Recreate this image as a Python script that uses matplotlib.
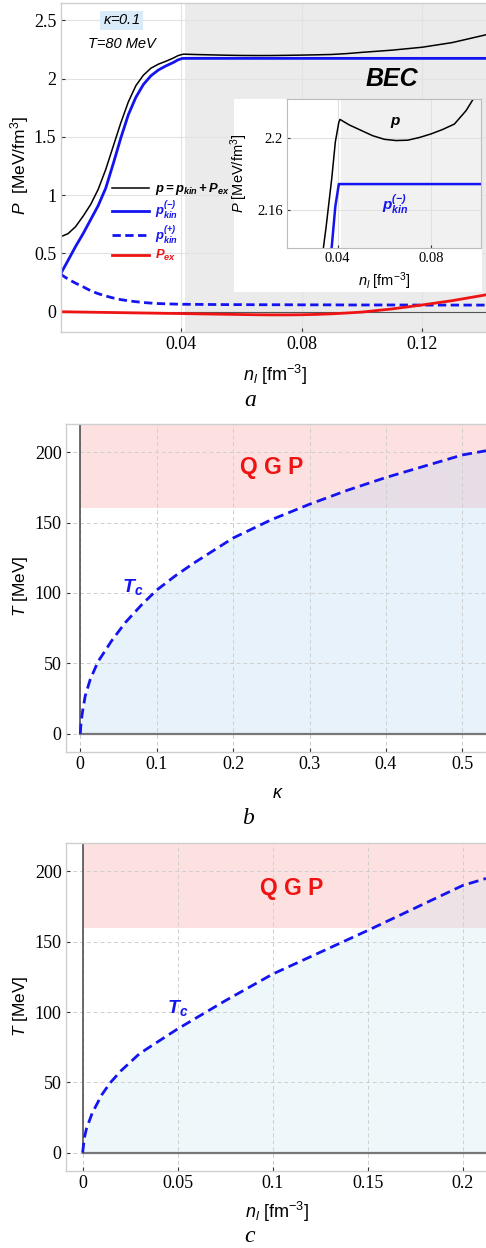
import matplotlib
matplotlib.use("Agg")
from matplotlib import pyplot as plt
from matplotlib.patches import Rectangle

plt.rcParams["font.family"] = ["Liberation Sans", "DejaVu Sans"]
plt.rcParams["mathtext.fontset"] = "custom"
plt.rcParams["mathtext.rm"] = "Liberation Sans"
plt.rcParams["mathtext.it"] = "Liberation Sans:italic"
plt.rcParams["mathtext.bf"] = "Liberation Sans:bold"
plt.rcParams["mathtext.bfit"] = "Liberation Sans:bold:italic"

# panel a: pressure vs density (kappa=0.1, T=80 MeV)
n_a = [0, 0.0025, 0.005, 0.0075, 0.01, 0.0125, 0.015, 0.0175, 0.02, 0.0225,
       0.025, 0.0275, 0.03, 0.0325, 0.035, 0.0375, 0.039, 0.0405, 0.041, 0.045,
       0.05, 0.055, 0.06, 0.065, 0.07, 0.075, 0.08, 0.085, 0.09, 0.095,
       0.1, 0.11, 0.12, 0.13, 0.1412]
p_total = [0.643, 0.67, 0.73, 0.82, 0.92, 1.05, 1.22, 1.42, 1.62, 1.80,
           1.94, 2.03, 2.09, 2.125, 2.150, 2.178, 2.198, 2.209, 2.2106, 2.2075,
           2.2045, 2.2015, 2.1995, 2.1988, 2.199, 2.2005, 2.2025, 2.205, 2.208, 2.2155,
           2.226, 2.245, 2.27, 2.31, 2.377]
p_kin_minus = [0.323, 0.44, 0.56, 0.67, 0.79, 0.91, 1.06, 1.27, 1.49, 1.69,
               1.84, 1.95, 2.025, 2.075, 2.11, 2.14, 2.162, 2.1745, 2.1745, 2.1745,
               2.1745, 2.1745, 2.1745, 2.1745, 2.1745, 2.1745, 2.1745, 2.1745, 2.1745, 2.1745,
               2.1745, 2.1745, 2.1745, 2.1745, 2.1745]
p_kin_plus = [0.323, 0.28, 0.245, 0.214, 0.18, 0.155, 0.135, 0.118, 0.104, 0.094,
              0.086, 0.079, 0.074, 0.07, 0.068, 0.066, 0.065, 0.064, 0.064, 0.063,
              0.062, 0.061, 0.061, 0.06, 0.06, 0.06, 0.059, 0.059, 0.059, 0.058,
              0.058, 0.058, 0.057, 0.057, 0.057]
p_ex = [0, -0.001, -0.002, -0.003, -0.004, -0.005, -0.006, -0.007, -0.008, -0.009,
        -0.010, -0.011, -0.012, -0.013, -0.014, -0.015, -0.015, -0.016, -0.016, -0.018,
        -0.02, -0.022, -0.024, -0.026, -0.027, -0.027, -0.026, -0.023, -0.018, -0.011,
        -0.003, 0.024, 0.058, 0.095, 0.145]
n_bec = 0.0413

# panel b: Tc vs kappa
kappa = [0, 0.001, 0.003, 0.0065, 0.013, 0.023, 0.041, 0.059, 0.081, 0.1,
         0.124, 0.148, 0.2, 0.25, 0.3, 0.35, 0.4, 0.45, 0.5, 0.531]
tc_kappa = [0, 8, 16, 27, 38.5, 51, 66, 79, 92, 102,
            112, 121, 139, 152, 163, 173, 182, 190, 198, 201]

# panel c: Tc vs density
n_c = [0, 0.001, 0.002, 0.005, 0.01, 0.0144, 0.02, 0.03, 0.05, 0.075,
       0.1, 0.125, 0.15, 0.175, 0.2, 0.2123]
tc_n = [0, 11, 17, 28, 41, 49.5, 58, 70.5, 88, 108,
        127, 142.5, 158, 174, 190, 195]
t_qgp = 160

BLUE = "#1414f0"
RED = "#ee1414"
SERIF = "Liberation Serif"

fig = plt.figure(figsize=(4.86, 12.48), dpi=100)
W, H = 486.0, 1248.0


def box(x0, y0, x1, y1):
    return [x0 / W, 1 - y1 / H, (x1 - x0) / W, (y1 - y0) / H]


def style_frame(ax):
    for s in ["left", "bottom", "top"]:
        ax.spines[s].set_color("#cfcfcf")
        ax.spines[s].set_linewidth(1.0)
    ax.spines["right"].set_visible(False)
    ax.tick_params(direction="in", length=3, width=0.8, color="#333333",
                   labelsize=13, pad=3)
    for lab in ax.get_xticklabels() + ax.get_yticklabels():
        lab.set_fontfamily(SERIF)


# ---------- panel a ----------
ax = fig.add_axes(box(60.5, 2.5, 486, 332))
ax.set_xlim(0, 0.1412)
ax.set_ylim(-0.174, 2.654)
ax.axvspan(n_bec, 0.1412, color="#ebebeb", zorder=0, lw=0)
ax.set_axisbelow(True)
ax.grid(True, color="#e2e2e2", lw=0.8)
ax.axhline(0, color="#555555", lw=0.8, zorder=1)
l1, = ax.plot(n_a, p_total, color="black", lw=1.1, label=r"$\mathbfit{p=p_{kin}+P_{ex}}$")
l2, = ax.plot(n_a, p_kin_minus, color=BLUE, lw=2.0, label=r"$\mathbfit{p^{(-)}_{kin}}$")
l3, = ax.plot(n_a, p_kin_plus, color=BLUE, lw=2.0, ls=(0, (3, 1.6)), label=r"$\mathbfit{p^{(+)}_{kin}}$")
l4, = ax.plot(n_a, p_ex, color=RED, lw=2.0, label=r"$\mathbfit{P_{ex}}$")
ax.set_xticks([0.04, 0.08, 0.12])
ax.set_xticklabels(["0.04", "0.08", "0.12"])
ax.set_yticks([0, 0.5, 1, 1.5, 2, 2.5])
ax.set_yticklabels(["0", "0.5", "1", "1.5", "2", "2.5"])
style_frame(ax)
ax.legend(handles=[l1, l2, l3, l4], loc="upper left", bbox_to_anchor=(0.12, 0.458),
          frameon=False, fontsize=9.4, handlelength=2.9, handletextpad=0.45,
          labelspacing=0.2, borderpad=0, borderaxespad=0, labelcolor="linecolor")
ax.text(0.0203, 2.5, r"$\kappa$=0.1", fontsize=10.5, style="italic", ha="center", va="center",
        bbox=dict(facecolor="#d9ebf9", edgecolor="none", pad=2))
ax.text(0.0203, 2.30, "T=80 MeV", fontsize=10.5, style="italic", ha="center", va="center")
ax.text(0.110, 2.0, "BEC", fontsize=18, fontweight="bold", style="italic", ha="center", va="center")

# inset
ax.add_patch(Rectangle((234 / W, 1 - 292 / H), 248 / W, 193 / H, transform=fig.transFigure,
                       facecolor="white", edgecolor="none", zorder=5, clip_on=False))
axi = fig.add_axes(box(287, 99, 481, 248))
axi.set_xlim(0.0183, 0.1014)
axi.set_ylim(2.1388, 2.222)
axi.axvspan(n_bec, 0.1014, color="#f1f1f1", zorder=0, lw=0)
axi.set_axisbelow(True)
axi.grid(True, color="#e0e0e0", lw=0.8)
axi.plot(n_a, p_total, color="black", lw=1.1)
axi.plot(n_a, p_kin_minus, color=BLUE, lw=1.8)
axi.set_xticks([0.04, 0.08])
axi.set_xticklabels(["0.04", "0.08"])
axi.set_yticks([2.16, 2.2])
axi.set_yticklabels(["2.16", "2.2"])
for s in axi.spines.values():
    s.set_color("#bbbbbb")
axi.tick_params(direction="in", length=2.5, width=0.8, color="#333333", labelsize=10.5, pad=3)
for lab in axi.get_xticklabels() + axi.get_yticklabels():
    lab.set_fontfamily(SERIF)
axi.set_xlabel(r"$n_l$ [fm$^{-3}$]", fontsize=10.5, labelpad=4)
axi.set_ylabel(r"$P$ [MeV/fm$^3$]", fontsize=10.5, labelpad=5)
axi.text(0.0646, 2.2087, r"$\mathbfit{p}$", fontsize=11, ha="center", va="center")
axi.text(0.0646, 2.1628, r"$\mathbfit{p^{(-)}_{kin}}$", fontsize=11, color=BLUE, ha="center", va="center")

fig.text(20 / W, 1 - 166 / H, r"$P$  [MeV/fm$^3$]", rotation=90, fontsize=12.5, ha="center", va="center")
fig.text(275 / W, 1 - 375 / H, r"$n_l$ [fm$^{-3}$]", fontsize=13, ha="center", va="center")
fig.text(250 / W, 1 - 400 / H, "a", fontsize=17, family=SERIF, style="italic", ha="center", va="center")


# ---------- panels b and c ----------
def phase_panel(rect, x, t, xlim, xticks, xlabels, fill_col, label_xy, qgp_xy):
    axp = fig.add_axes(rect)
    axp.set_xlim(*xlim)
    axp.set_ylim(-12.8, 220)
    axp.axhspan(t_qgp, 220, xmin=(0 - xlim[0]) / (xlim[1] - xlim[0]), xmax=1,
                color="#fde0e0", lw=0, zorder=0)
    axp.fill_between(x, 0, t, color=fill_col, alpha=0.3, lw=0, zorder=0.2)
    axp.set_axisbelow(True)
    axp.grid(True, color="#cfcfcf", lw=0.7, ls=(0, (4, 3)))
    axp.axvline(0, ymin=12.8 / 232.8, ymax=1, color="#444444", lw=1.1, zorder=2)
    axp.axhline(0, xmin=(0 - xlim[0]) / (xlim[1] - xlim[0]), xmax=1, color="#777777", lw=1.6, zorder=2)
    axp.plot(x, t, color=BLUE, lw=2.0, ls=(0, (3.6, 1.9)), zorder=3)
    axp.set_xticks(xticks)
    axp.set_xticklabels(xlabels)
    axp.set_yticks([0, 50, 100, 150, 200])
    axp.set_yticklabels(["0", "50", "100", "150", "200"])
    style_frame(axp)
    axp.text(label_xy[0], label_xy[1], r"$\mathbfit{T_c}$", fontsize=14, color=BLUE, ha="center", va="center")
    axp.text(qgp_xy[0], qgp_xy[1], "Q G P", fontsize=16.5, fontweight="bold", color=RED, ha="center", va="center")
    return axp


phase_panel(box(65.7, 424, 486, 751.7), kappa, tc_kappa, (-0.0191, 0.531),
            [0, 0.1, 0.2, 0.3, 0.4, 0.5], ["0", "0.1", "0.2", "0.3", "0.4", "0.5"],
            "#b6d7f5", (0.069, 104), (0.25, 189))
fig.text(20 / W, 1 - 586 / H, r"$T$ [MeV]", rotation=90, fontsize=12.5, ha="center", va="center")
fig.text(278 / W, 1 - 793 / H, r"$\kappa$", fontsize=13, ha="center", va="center")
fig.text(248 / W, 1 - 818 / H, "b", fontsize=17, family=SERIF, style="italic", ha="center", va="center")

phase_panel(box(65.7, 843.3, 486, 1170.7), n_c, tc_n, (-0.0089, 0.2123),
            [0, 0.05, 0.1, 0.15, 0.2], ["0", "0.05", "0.1", "0.15", "0.2"],
            "#c8e8f2", (0.0503, 103), (0.11, 188))
fig.text(20 / W, 1 - 1006 / H, r"$T$ [MeV]", rotation=90, fontsize=12.5, ha="center", va="center")
fig.text(277 / W, 1 - 1212 / H, r"$n_l$ [fm$^{-3}$]", fontsize=13, ha="center", va="center")
fig.text(250 / W, 1 - 1236 / H, "c", fontsize=17, family=SERIF, style="italic", ha="center", va="center")

fig.savefig("out.png", dpi=100)
